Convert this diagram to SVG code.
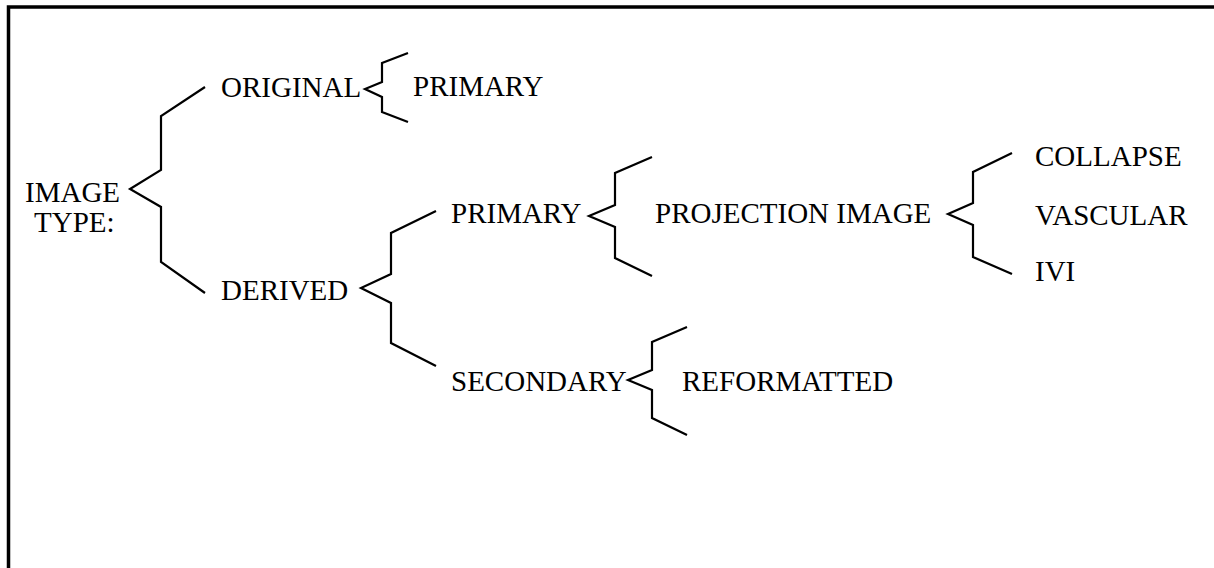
<svg xmlns="http://www.w3.org/2000/svg" width="1214" height="568" viewBox="0 0 1214 568">
<style>
.b{fill:none;stroke:#000;stroke-width:2.2;stroke-linejoin:miter}
</style>
<rect x="0" y="0" width="1214" height="568" fill="#fff"/>
<path d="M8.5,568 V7 H1214" fill="none" stroke="#000" stroke-width="3.5"/>
<g id="connectors">
<polyline class="b" points="205,87 161,116 161,170 130,189 161,207 161,262 205,293"/>
<polyline class="b" points="408,53 382,63 382,82 365,89 382,97 382,112 408,122"/>
<polyline class="b" points="436,211 391,233 391,274 361,288 391,303 391,343 436,366"/>
<polyline class="b" points="652,157 615,173 615,205 589,216 615,227 615,258 652,276"/>
<polyline class="b" points="687,327 652,342 652,370 628,380 652,390 652,418 687,435"/>
<polyline class="b" points="1012,153 973,172 973,203 948,214 973,225 973,257 1012,274"/>
</g>
<g font-family="Liberation Serif" font-size="29" fill="#000">
<g id="image-type"><text x="25" y="202">IMAGE</text><text x="34" y="232">TYPE:</text></g>
<g id="original"><text x="221" y="97">ORIGINAL</text></g>
<g id="original-primary"><text x="413" y="96">PRIMARY</text></g>
<g id="derived"><text x="221" y="300">DERIVED</text></g>
<g id="derived-primary"><text x="451" y="223">PRIMARY</text></g>
<g id="projection-image"><text x="655" y="223">PROJECTION IMAGE</text></g>
<g id="secondary"><text x="451" y="391">SECONDARY</text></g>
<g id="reformatted"><text x="682" y="391">REFORMATTED</text></g>
<g id="collapse"><text x="1035" y="166">COLLAPSE</text></g>
<g id="vascular"><text x="1035" y="225">VASCULAR</text></g>
<g id="ivi"><text x="1035" y="281">IVI</text></g>
</g>
</svg>
